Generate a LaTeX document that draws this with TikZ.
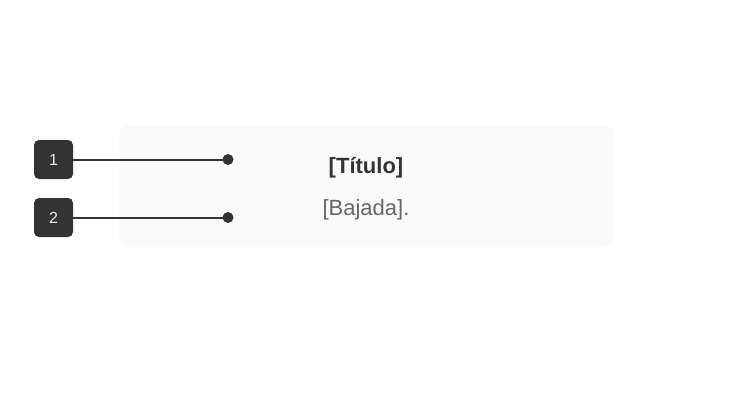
\documentclass[tikz,border=0pt]{standalone}
\usepackage{fontspec}
\setmainfont{Liberation Sans}
\definecolor{dark}{HTML}{333333}
\definecolor{cardbg}{HTML}{FAFAFA}
\definecolor{subgray}{HTML}{666666}
\begin{document}
\begin{tikzpicture}[x=1pt,y=-1pt,
  badge/.style={fill=dark,rounded corners=5pt,minimum width=39pt,minimum height=39pt,inner sep=0pt,text=white!92!black,font=\fontsize{16}{18}\selectfont},
  leader/.style={draw=dark,line width=2pt},
  dotend/.style={circle,fill=dark,inner sep=0pt,minimum size=11pt}]
\useasboundingbox[fill=white] (0,0) rectangle (735,405);
\node[fill=cardbg,rounded corners=10pt,minimum width=495pt,minimum height=122pt,inner sep=0pt] (card) at (366.5,186) {};
\node[font=\fontsize{22}{24}\selectfont\bfseries,text=dark] (title) at (366,168) {[Título]};
\node[font=\fontsize{22}{24}\selectfont,text=subgray] (sub) at (366,210) {[Bajada].};
\node[badge] (b1) at (53.5,159.5) {1};
\node[badge] (b2) at (53.5,217.5) {2};
\node[dotend] (d1) at (228,159.5) {};
\node[dotend] (d2) at (228,217.5) {};
\draw[leader] (b1.east) -- (d1.center);
\draw[leader] (b2.east) -- (d2.center);
\end{tikzpicture}
\end{document}
